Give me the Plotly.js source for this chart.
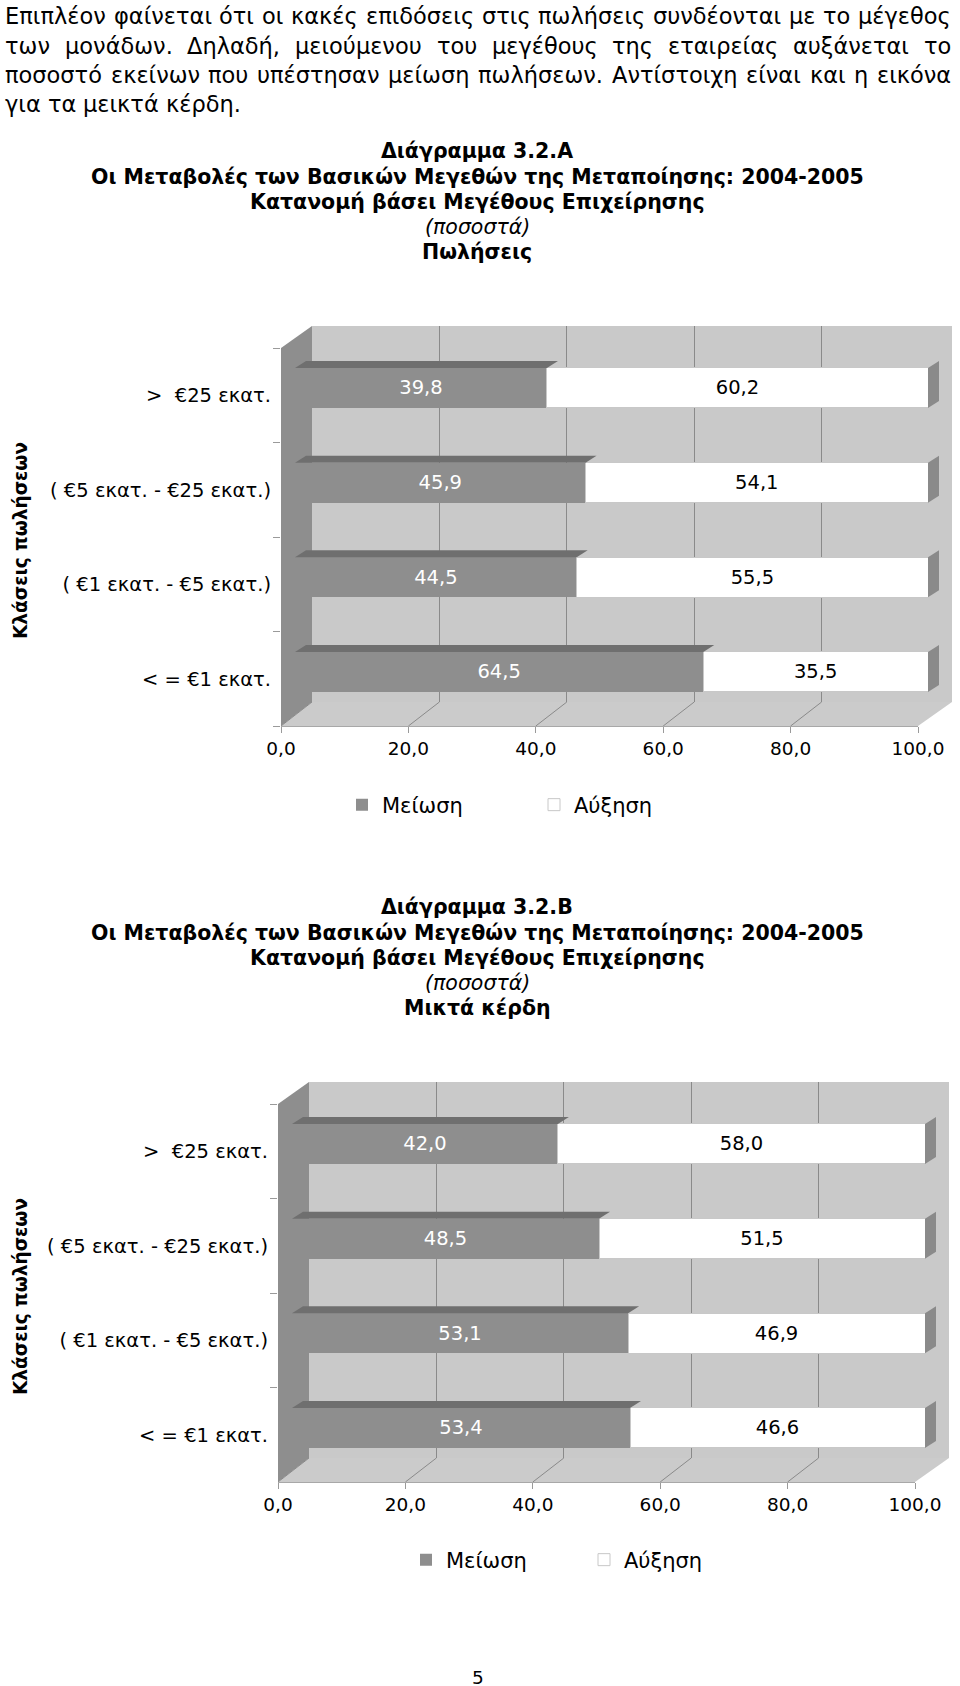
<!DOCTYPE html>
<html><head><meta charset="utf-8">
<script src="https://cdn.plot.ly/plotly-3.0.1.min.js"></script>
<style>html,body{margin:0;padding:0;background:#fff}</style>
</head><body>
<div id="chart" style="width:960px;height:1686px"></div>
<script>
// ---------------- data ----------------
const categories = ['< = €1 εκατ.', '( €1 εκατ. - €5 εκατ.)', '( €5 εκατ. - €25 εκατ.)', '>  €25 εκατ.'];
const seriesNames = ['Μείωση', 'Αύξηση'];
const salesDecrease = [64.5, 44.5, 45.9, 39.8];
const salesIncrease = [35.5, 55.5, 54.1, 60.2];
const profitDecrease = [53.4, 53.1, 48.5, 42.0];
const profitIncrease = [46.6, 46.9, 51.5, 58.0];
const xTickVals = [0, 20, 40, 60, 80, 100];
const yAxisTitle = 'Κλάσεις πωλήσεων';
const titleA = ['Διάγραμμα 3.2.Α', 'Οι Μεταβολές των Βασικών Μεγεθών της Μεταποίησης: 2004-2005', 'Κατανομή βάσει Μεγέθους Επιχείρησης', '(ποσοστά)', 'Πωλήσεις'];
const titleB = ['Διάγραμμα 3.2.Β', 'Οι Μεταβολές των Βασικών Μεγεθών της Μεταποίησης: 2004-2005', 'Κατανομή βάσει Μεγέθους Επιχείρησης', '(ποσοστά)', 'Μικτά κέρδη'];
const paragraph = [
  'Επιπλέον φαίνεται ότι οι κακές επιδόσεις στις πωλήσεις συνδέονται με το μέγεθος',
  'των μονάδων. Δηλαδή, μειούμενου του μεγέθους της εταιρείας αυξάνεται το',
  'ποσοστό εκείνων που υπέστησαν μείωση πωλήσεων. Αντίστοιχη είναι και η εικόνα',
  'για τα μεικτά κέρδη.'
];
const pageNumber = '5';

// ---------------- layout helpers ----------------
const W = 960, H = 1686;
const fx = p => p / W, fy = p => 1 - p / H;
const FAM = '"DejaVu Sans", Verdana, sans-serif';
const C = {
  wall: '#c9c9c9', floor: '#cbcbcb', side: '#8e8e8e', grid: '#8a8a8a',
  dark: '#8e8e8e', darkTop: '#6f6f6f', white: '#ffffff', whiteSide: '#8a8a8a'
};

const ctx = document.createElement('canvas').getContext('2d');
function measure(t, size, weight) {
  ctx.font = (weight || 'normal') + ' ' + size + 'px ' + FAM;
  return ctx.measureText(t).width;
}
// font size giving a text its width in the reference page
function fit(t, width, weight) {
  return Math.round(20 * width / measure(t, 20, weight) * 2) / 2;
}
const S = {
  para: fit(paragraph[0], 942),
  title: fit(titleA[1], 765, 'bold'),
  cat: fit('( €5 εκατ. - €25 εκατ.)', 219),
  tick: fit('100,0', 53),
  bar: fit('39,8', 43),
  legend: fit('Μείωση', 81),
  ytitle: fit(yAxisTitle, 198, 'bold')
};

const traces = [], shapes = [], annotations = [], layout = {};

function axKey(n, a) { return a + 'axis' + (n === 1 ? '' : n); }
function axRef(n, a) { return a + (n === 1 ? '' : n); }

function buildChart(dec, inc, ox, oy, n0, legendId, titleLines) {
  const gN = n0, fN = n0 + 1, bN = n0 + 2;
  // geometry (pixels)
  const frontX0 = 281 + ox, frontX1 = 918 + ox;
  const backX0 = 312 + ox, backX1 = 949 + ox, wallRight = 952 + ox;
  const wallTop = 326 + oy, backFloor = 702 + oy, frontFloor = 726 + oy, sideTop = 348 + oy;
  const barX0 = 295 + ox, ppu = 6.33;
  const barTopC = 388 + oy, barBotC = 672 + oy;
  const step = (barBotC - barTopC) / 3;
  const barW = 40 / step;
  const xMaxBar = 103;

  // back wall, side wall, floor
  shapes.push({type: 'rect', xref: 'paper', yref: 'paper', layer: 'below',
    x0: fx(backX0), x1: fx(wallRight), y0: fy(backFloor), y1: fy(wallTop),
    fillcolor: C.wall, line: {width: 0}});
  shapes.push({type: 'path', xref: 'paper', yref: 'paper', layer: 'below',
    path: `M${fx(frontX0)},${fy(sideTop)} L${fx(backX0)},${fy(wallTop)} L${fx(backX0)},${fy(backFloor)} L${fx(frontX0)},${fy(frontFloor)} Z`,
    fillcolor: C.side, line: {width: 0}});
  shapes.push({type: 'path', xref: 'paper', yref: 'paper', layer: 'below',
    path: `M${fx(frontX0)},${fy(frontFloor)} L${fx(backX0)},${fy(backFloor)} L${fx(wallRight)},${fy(backFloor)} L${fx(frontX1)},${fy(frontFloor)} Z`,
    fillcolor: C.floor, line: {width: 0}});
  // floor grid lines from each front tick to the back wall
  xTickVals.forEach(v => {
    shapes.push({type: 'line', xref: axRef(fN, 'x'), xsizemode: 'pixel', xanchor: v,
      x0: 0, x1: backX0 - frontX0, yref: 'paper', y0: fy(frontFloor), y1: fy(backFloor),
      layer: 'below', line: {color: C.grid, width: 1}});
  });

  // back wall grid axis
  layout[axKey(gN, 'x')] = {domain: [fx(backX0), fx(backX1)], range: [0, 100], anchor: axRef(gN, 'y'),
    tickvals: xTickVals, showticklabels: false, ticks: '', showgrid: true, gridcolor: C.grid, gridwidth: 1,
    zeroline: false, showline: false, fixedrange: true};
  layout[axKey(gN, 'y')] = {domain: [fy(backFloor), fy(wallTop)], range: [0, 1], anchor: axRef(gN, 'x'),
    showgrid: false, zeroline: false, showticklabels: false, ticks: '', showline: false, fixedrange: true};
  traces.push({type: 'scatter', x: [0, 100], y: [0, 1], mode: 'markers', marker: {opacity: 0},
    xaxis: axRef(gN, 'x'), yaxis: axRef(gN, 'y'), hoverinfo: 'skip', showlegend: false});

  // front axis (tick labels + category labels)
  layout[axKey(fN, 'x')] = {domain: [fx(frontX0), fx(frontX1)], range: [0, 100], anchor: axRef(fN, 'y'),
    tickvals: xTickVals, tickformat: '.1f', ticks: 'outside', ticklen: 6, tickcolor: '#9a9a9a',
    showgrid: false, zeroline: false, showline: true, linecolor: '#a8a8a8', linewidth: 1,
    tickfont: {family: FAM, size: S.tick, color: '#000'}, fixedrange: true};
  layout[axKey(fN, 'y')] = {domain: [fy(frontFloor), fy(sideTop)], type: 'category', categoryarray: categories,
    categoryorder: 'array', range: [-0.5, 3.5], anchor: axRef(fN, 'x'), tickson: 'boundaries',
    ticks: 'outside', ticklen: 7, tickcolor: '#9a9a9a', showgrid: false, zeroline: false, showline: false,
    ticklabelstandoff: 9,
    tickfont: {family: FAM, size: S.cat, color: '#000'}, fixedrange: true};
  traces.push({type: 'scatter', x: categories.map(() => 0), y: categories, mode: 'markers', marker: {opacity: 0},
    xaxis: axRef(fN, 'x'), yaxis: axRef(fN, 'y'), hoverinfo: 'skip', showlegend: false});

  // bars axis
  layout[axKey(bN, 'x')] = {domain: [fx(barX0), fx(barX0 + xMaxBar * ppu)], range: [0, xMaxBar], anchor: axRef(bN, 'y'),
    visible: false, fixedrange: true};
  layout[axKey(bN, 'y')] = {domain: [fy(barBotC + step / 2), fy(barTopC - step / 2)], range: [-0.5, 3.5],
    anchor: axRef(bN, 'x'), visible: false, fixedrange: true};
  const yIdx = categories.map((c, i) => i);
  traces.push({type: 'bar', orientation: 'h', name: seriesNames[0], x: dec, y: yIdx, width: barW,
    xaxis: axRef(bN, 'x'), yaxis: axRef(bN, 'y'), legend: legendId,
    marker: {color: C.dark, line: {width: 0}},
    texttemplate: '%{x:.1f}', textposition: 'inside', insidetextanchor: 'middle', textangle: 0,
    constraintext: 'none', textfont: {family: FAM, size: S.bar, color: '#ffffff'}, hoverinfo: 'skip'});
  traces.push({type: 'bar', orientation: 'h', name: seriesNames[1], x: inc, y: yIdx, width: barW,
    xaxis: axRef(bN, 'x'), yaxis: axRef(bN, 'y'), legend: legendId,
    marker: {color: C.white, line: {color: '#c8c8c8', width: 1}},
    texttemplate: '%{x:.1f}', textposition: 'inside', insidetextanchor: 'middle', textangle: 0,
    constraintext: 'none', textfont: {family: FAM, size: S.bar, color: '#000000'}, hoverinfo: 'skip'});

  // 3D faces of bars (data coordinates of the bar axes)
  const ddx = 11 / ppu, ddy = 7 / step;
  dec.forEach((d, i) => {
    const yt = i + barW / 2, yb = i - barW / 2;
    shapes.push({type: 'path', xref: axRef(bN, 'x'), yref: axRef(bN, 'y'), layer: 'above',
      path: `M0,${yt} L${ddx},${yt + ddy} L${d + ddx},${yt + ddy} L${d},${yt} Z`,
      fillcolor: C.darkTop, line: {width: 0}});
    const tot = d + inc[i];
    shapes.push({type: 'path', xref: axRef(bN, 'x'), yref: axRef(bN, 'y'), layer: 'above',
      path: `M${tot},${yb} L${tot + ddx},${yb + ddy} L${tot + ddx},${yt + ddy} L${tot},${yt} Z`,
      fillcolor: C.whiteSide, line: {width: 0}});
  });

  // titles
  const tY = [151, 177, 202, 227, 252];
  titleLines.forEach((t, i) => {
    const txt = i === 3 ? '<i>' + t + '</i>' : '<b>' + t + '</b>';
    annotations.push({text: txt, xref: 'paper', yref: 'paper', x: fx(477), y: fy(tY[i] + oy),
      xanchor: 'center', yanchor: 'middle', showarrow: false,
      font: {family: FAM, size: S.title, color: '#000'}});
  });
  // y axis title
  annotations.push({text: '<b>' + yAxisTitle + '</b>', xref: 'paper', yref: 'paper', x: fx(20), y: fy(541 + oy),
    xanchor: 'center', yanchor: 'middle', textangle: -90, showarrow: false,
    font: {family: FAM, size: S.ytitle, color: '#000'}});
}

buildChart(salesDecrease, salesIncrease, 0, 0, 1, 'legend', titleA);
buildChart(profitDecrease, profitIncrease, -3, 756, 4, 'legend2', titleB);

// paragraph (justified)
const pLeft = 5, pRight = 951;
const pY = [16, 46, 75, 104];
paragraph.forEach((line, li) => {
  const words = line.split(' ');
  const widths = words.map(w => measure(w, S.para));
  const sum = widths.reduce((a, b) => a + b, 0);
  const justify = li < paragraph.length - 1;
  const gap = justify ? (pRight - pLeft - sum) / (words.length - 1) : measure(' ', S.para);
  let x = pLeft;
  words.forEach((w, i) => {
    annotations.push({text: w, xref: 'paper', yref: 'paper', x: fx(x - 1), y: fy(pY[li]),
      xanchor: 'left', yanchor: 'middle', showarrow: false, borderpad: 0,
      font: {family: FAM, size: S.para, color: '#000'}});
    x += widths[i] + gap;
  });
});
annotations.push({text: pageNumber, xref: 'paper', yref: 'paper', x: fx(478), y: fy(1677),
  xanchor: 'center', yanchor: 'middle', showarrow: false, font: {family: FAM, size: S.tick, color: '#000'}});

const legendCommon = {orientation: 'h', xanchor: 'left', yanchor: 'middle', entrywidthmode: 'pixels',
  bgcolor: 'rgba(0,0,0,0)', traceorder: 'normal', font: {family: FAM, size: S.legend, color: '#000'}};

Object.assign(layout, {
  width: W, height: H, margin: {l: 0, r: 0, t: 0, b: 0},
  paper_bgcolor: '#ffffff', plot_bgcolor: 'rgba(0,0,0,0)',
  separators: ',.', barmode: 'stack', showlegend: true,
  font: {family: FAM, color: '#000'},
  legend: Object.assign({}, legendCommon, {x: fx(342), y: fy(805), entrywidth: 147}),
  legend2: Object.assign({}, legendCommon, {x: fx(406), y: fy(1560), entrywidth: 133}),
  shapes: shapes, annotations: annotations
});

Plotly.newPlot('chart', traces, layout, {displayModeBar: false, staticPlot: true});
</script>
</body></html>
